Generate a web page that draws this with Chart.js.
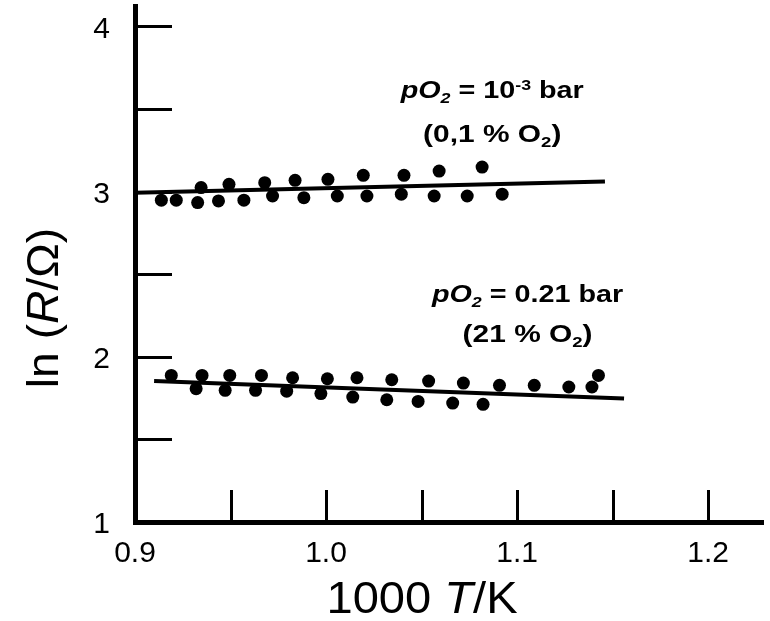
<!DOCTYPE html>
<html><head><meta charset="utf-8">
<script src="https://cdn.jsdelivr.net/npm/chart.js@4"></script>
<style>html,body{margin:0;padding:0;background:#fff}</style>
</head><body>
<canvas id="c" width="770" height="621"></canvas>
<script>
// ---- data ----
const topX = [0.9138, 0.9216, 0.9328, 0.9437, 0.9570, 0.9720, 0.9884, 1.0059, 1.0214, 1.0394, 1.0566, 1.0739, 1.0922,
              0.9346, 0.9492, 0.9679, 0.9838, 1.0010, 1.0195, 1.0408, 1.0592, 1.0817];
const topY = [2.948, 2.948, 2.933, 2.943, 2.948, 2.973, 2.963, 2.973, 2.973, 2.984, 2.973, 2.973, 2.984,
              3.024, 3.044, 3.054, 3.068, 3.074, 3.098, 3.098, 3.124, 3.148];
const lowX = [0.9190, 0.9351, 0.9496, 0.9662, 0.9825, 1.0007, 1.0162, 1.0344, 1.0537, 1.0719, 1.0908, 1.1090, 1.1271, 1.1426,
              0.9320, 0.9472, 0.9631, 0.9794, 0.9973, 1.0140, 1.0318, 1.0482, 1.0663, 1.0822, 1.1392];
const lowY = [1.887, 1.887, 1.887, 1.887, 1.873, 1.867, 1.873, 1.861, 1.853, 1.841, 1.827, 1.827, 1.817, 1.887,
              1.807, 1.797, 1.797, 1.792, 1.777, 1.756, 1.740, 1.730, 1.720, 1.712, 1.817];
const topFitX = [0.900, 1.146];
const topFitY = [2.992, 3.061];
const lowFitX = [0.910, 1.156];
const lowFitY = [1.853, 1.747];
const xTicks = [0.9, 0.95, 1.0, 1.05, 1.1, 1.15, 1.2];
const xTickLabels = ['0.9', '', '1.0', '', '1.1', '', '1.2'];
const yTicks = [1, 1.5, 2, 2.5, 3, 3.5, 4];
const yTickLabels = ['1', '', '2', '', '3', '', '4'];

const FONT = "'Liberation Sans', Arial, Helvetica, sans-serif";
const pts = (xs, ys) => xs.map((v, i) => ({x: v, y: ys[i]}));

function drawRich(ctx, segs, cx, baseY, size, bold, stretch) {
  const w0 = bold ? 'bold ' : '';
  const fontOf = s => {
    const sz = s.s ? size * 0.62 : size;
    return (s.i ? 'italic ' : '') + w0 + sz + 'px ' + FONT;
  };
  let total = 0;
  segs.forEach(s => { ctx.font = fontOf(s); total += ctx.measureText(s.t).width; });
  ctx.save();
  ctx.translate(cx, baseY);
  ctx.scale(stretch || 1, 1);
  let x = -total / 2;
  ctx.textAlign = 'left';
  ctx.textBaseline = 'alphabetic';
  segs.forEach(s => {
    ctx.font = fontOf(s);
    let dy = 0;
    if (s.s === 'sub') dy = size * 0.22;
    if (s.s === 'sup') dy = -size * 0.36;
    ctx.fillText(s.t, x, dy);
    x += ctx.measureText(s.t).width;
  });
  ctx.restore();
}

const decorations = {
  id: 'decorations',
  afterDatasetsDraw(chart) {
    const {ctx, chartArea: a, scales: {x, y}} = chart;
    ctx.save();
    // inward tick marks
    ctx.strokeStyle = '#000';
    ctx.lineWidth = 3;
    ctx.beginPath();
    xTicks.slice(1).forEach(v => {
      const px = Math.round(x.getPixelForValue(v)) + 0.5;
      ctx.moveTo(px, a.bottom);
      ctx.lineTo(px, a.bottom - 32);
    });
    yTicks.slice(1).forEach(v => {
      const py = Math.round(y.getPixelForValue(v)) + 0.5;
      ctx.moveTo(a.left, py);
      ctx.lineTo(a.left + 37, py);
    });
    ctx.stroke();
    ctx.fillStyle = '#000';
    // axis titles
    drawRich(ctx, [{t: '1000 '}, {t: 'T', i: true}, {t: '/K'}], 422, 613, 44, false, 1.07);
    ctx.save();
    ctx.translate(58, 308);
    ctx.rotate(-Math.PI / 2);
    drawRich(ctx, [{t: 'ln ('}, {t: 'R', i: true}, {t: '/Ω)'}], 0, 0, 44, false, 1.05);
    ctx.restore();
    // annotations
    drawRich(ctx, [{t: 'pO', i: true}, {t: '2', i: true, s: 'sub'}, {t: ' = 10'}, {t: '-3', s: 'sup'}, {t: ' bar'}],
             x.getPixelForValue(1.087), y.getPixelForValue(3.565), 23, true, 1.25);
    drawRich(ctx, [{t: '(0,1 % O'}, {t: '2', s: 'sub'}, {t: ')'}],
             x.getPixelForValue(1.087), y.getPixelForValue(3.299), 23, true, 1.3);
    drawRich(ctx, [{t: 'pO', i: true}, {t: '2', i: true, s: 'sub'}, {t: ' = 0.21 bar'}],
             x.getPixelForValue(1.1055), y.getPixelForValue(2.330), 23, true, 1.25);
    drawRich(ctx, [{t: '(21 % O'}, {t: '2', s: 'sub'}, {t: ')'}],
             x.getPixelForValue(1.1055), y.getPixelForValue(2.092), 23, true, 1.3);
    ctx.restore();
  }
};

new Chart(document.getElementById('c'), {
  type: 'scatter',
  data: {
    datasets: [
      {data: pts(topFitX, topFitY), showLine: true, borderColor: '#000', borderWidth: 4, pointRadius: 0, fill: false},
      {data: pts(lowFitX, lowFitY), showLine: true, borderColor: '#000', borderWidth: 4, pointRadius: 0, fill: false},
      {data: pts(topX, topY), backgroundColor: '#000', borderWidth: 0, pointRadius: 6.5},
      {data: pts(lowX, lowY), backgroundColor: '#000', borderWidth: 0, pointRadius: 6.5}
    ]
  },
  options: {
    responsive: false,
    animation: false,
    devicePixelRatio: 1,
    layout: {padding: {top: 5, right: 0, left: 0, bottom: 0}},
    plugins: {legend: {display: false}, tooltip: {enabled: false}},
    scales: {
      x: {
        type: 'linear', min: 0.9, max: 1.229,
        afterBuildTicks: s => { s.ticks = xTicks.map(v => ({value: v})); },
        afterFit: s => { s.height = 99; s.paddingLeft = 0; s.paddingRight = 0; },
        grid: {display: false, drawTicks: false},
        border: {display: true, color: '#000', width: 5},
        ticks: {
          color: '#000', font: {family: FONT, size: 30}, padding: 14,
          autoSkip: false, maxRotation: 0,
          callback: v => { const i = xTicks.findIndex(t => Math.abs(t - v) < 1e-6); return i >= 0 ? xTickLabels[i] : ''; }
        }
      },
      y: {
        type: 'linear', min: 1, max: 4.12,
        afterBuildTicks: s => { s.ticks = yTicks.map(v => ({value: v})); },
        afterFit: s => { s.width = 135; s.paddingTop = 0; s.paddingBottom = 0; },
        grid: {display: false, drawTicks: false},
        border: {display: true, color: '#000', width: 5},
        ticks: {
          color: '#000', font: {family: FONT, size: 30}, padding: 25, labelOffset: 3,
          autoSkip: false,
          callback: v => { const i = yTicks.findIndex(t => Math.abs(t - v) < 1e-6); return i >= 0 ? yTickLabels[i] : ''; }
        }
      }
    }
  },
  plugins: [decorations]
});
</script>
</body></html>
